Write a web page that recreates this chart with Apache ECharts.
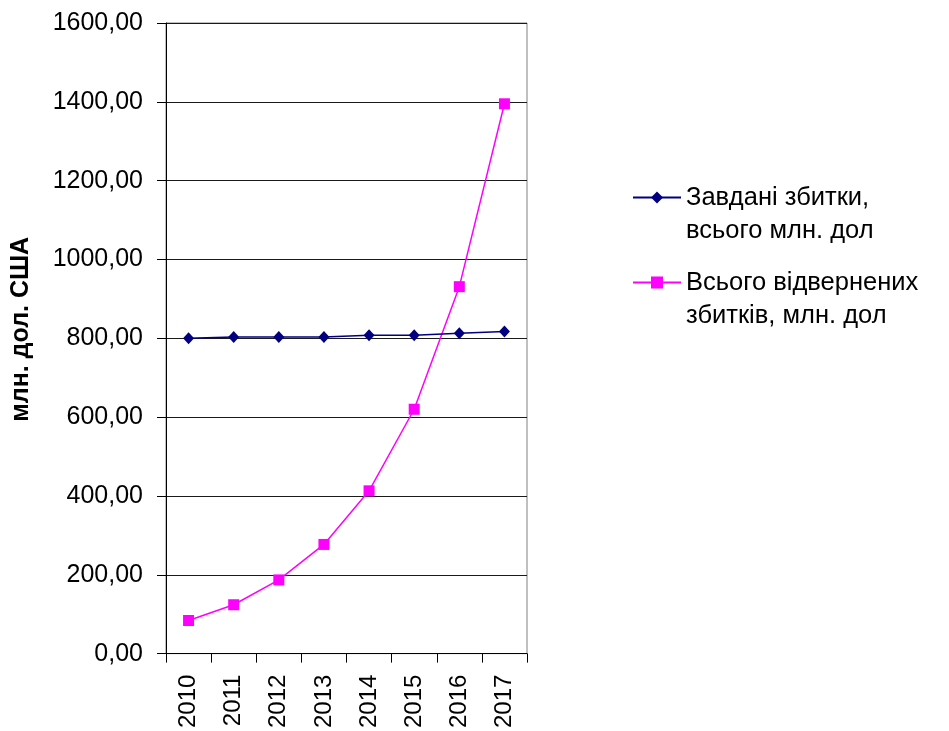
<!DOCTYPE html>
<html>
<head>
<meta charset="utf-8">
<script src="https://cdn.jsdelivr.net/npm/echarts@6/dist/echarts.min.js"></script>
<style>
  html, body { margin: 0; padding: 0; background: #fff; }
  #chart { width: 949px; height: 731px; }
</style>
</head>
<body>
<div id="chart"></div>
<script>
// Years on the category axis
const years = ['2010', '2011', '2012', '2013', '2014', '2015', '2016', '2017'];
// Damage caused, total, mln USD
const damageCaused = [800, 803, 803, 803, 808, 808, 813, 817];
// Damage prevented, total, mln USD
const damagePrevented = [84, 124, 187, 277, 413, 620, 931, 1395];
// Series names (shown in the legend)
const nameCaused = 'Завдані збитки,\nвсього млн. дол';
const namePrevented = 'Всього відвернених\nзбитків, млн. дол';
const yAxisTitle = 'млн. дол. США';

const FONT = 'Liberation Sans, Arial, sans-serif';
const chart = echarts.init(document.getElementById('chart'), null, { renderer: 'canvas' });

// Legend text gets a leading blank line so the icon lines up with the first text line
const legendCommon = {
  orient: 'vertical',
  left: 627,
  itemWidth: 48,
  itemHeight: 15,
  textStyle: { fontFamily: FONT, fontSize: 25.5, color: '#000', lineHeight: 33 },
  formatter: n => '\n' + n
};

chart.setOption({
  animation: false,
  backgroundColor: '#fff',
  grid: {
    left: 166, right: 422, top: 23, bottom: 75,
    show: true, borderColor: '#808080', borderWidth: 1
  },
  legend: [
    Object.assign({ top: 143, data: [nameCaused] }, legendCommon),
    Object.assign({ top: 228, data: [namePrevented] }, legendCommon)
  ],
  xAxis: {
    type: 'category',
    data: years,
    boundaryGap: true,
    axisLine: { lineStyle: { color: '#000', width: 1 } },
    axisTick: { show: true, alignWithLabel: false, length: 9, lineStyle: { color: '#000' } },
    axisLabel: { rotate: 90, margin: 21, fontFamily: FONT, fontSize: 24, color: '#000' }
  },
  yAxis: {
    type: 'value',
    min: 0, max: 1600, interval: 200,
    name: yAxisTitle,
    nameLocation: 'middle',
    nameGap: 132,
    nameRotate: 90,
    nameTextStyle: {
      fontFamily: FONT, fontSize: 25, fontWeight: 'bold', color: '#000',
      padding: [0, 0, 0, 18]
    },
    axisLine: { show: true, lineStyle: { color: '#000', width: 1 } },
    axisTick: { show: true, length: 9, lineStyle: { color: '#000' } },
    axisLabel: {
      margin: 23, fontFamily: FONT, fontSize: 25, color: '#000',
      formatter: v => v.toFixed(2).replace('.', ',')
    },
    splitLine: { show: true, lineStyle: { color: '#1a1a1a', width: 1 } }
  },
  series: [
    {
      name: nameCaused,
      type: 'line',
      data: damageCaused,
      symbol: 'diamond',
      symbolSize: [11, 12],
      showAllSymbol: true,
      lineStyle: { color: '#000080', width: 1.5 },
      itemStyle: { color: '#000080' },
      z: 3
    },
    {
      name: namePrevented,
      type: 'line',
      data: damagePrevented,
      symbol: 'rect',
      symbolSize: 11,
      showAllSymbol: true,
      lineStyle: { color: '#ff00ff', width: 1.5 },
      itemStyle: { color: '#ff00ff' },
      z: 2
    }
  ]
});
</script>
</body>
</html>
